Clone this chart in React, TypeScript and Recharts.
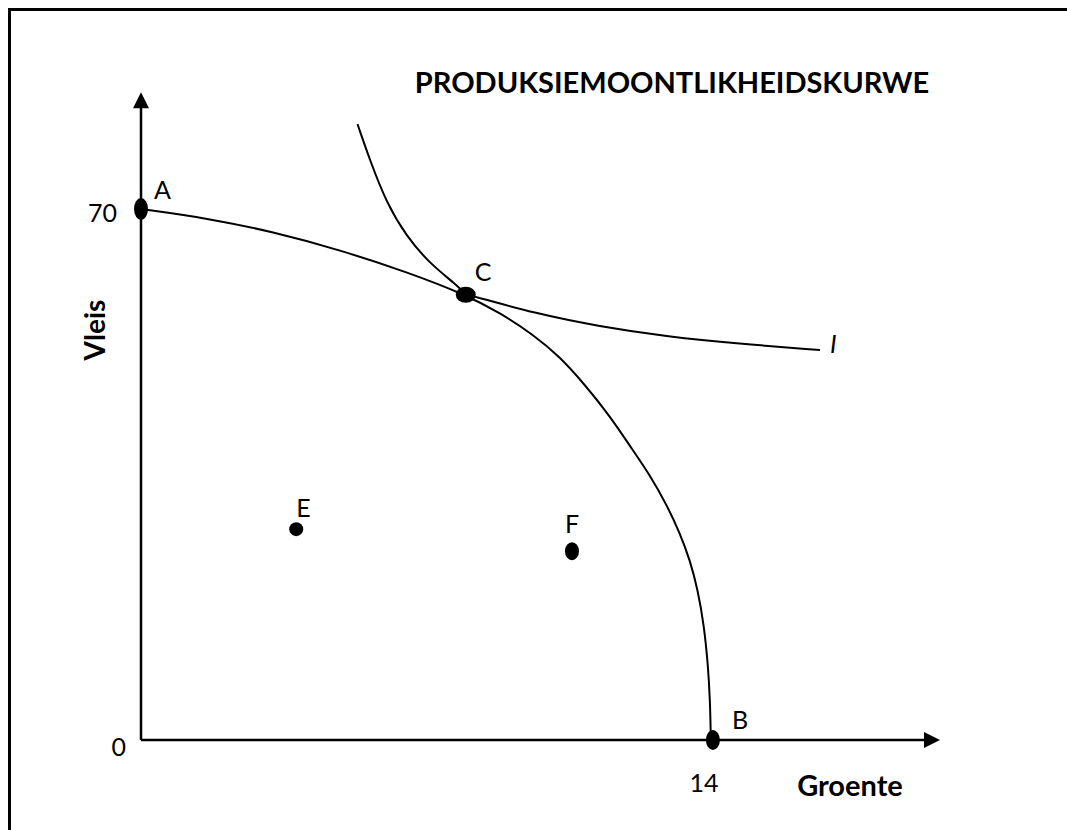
import { ComposedChart, Line, Scatter, XAxis, YAxis, ReferenceLine, ReferenceDot } from 'recharts';

// production possibility curve (Groente, Vleis)
const ppfX = [0, 1.62, 3.23, 4.87, 6.51, 7.95, 8.79, 9.59, 10.26, 10.87, 11.48, 12.04, 12.46, 12.87, 13.19, 13.44, 13.63, 13.78, 13.88, 13.93, 13.95];
const ppfY = [70, 68.8, 67.0, 64.6, 61.7, 58.7, 56.3, 53.5, 50.5, 46.8, 42.7, 38.2, 34.9, 31.0, 27.3, 23.7, 19.8, 15.2, 9.9, 5.3, 0];

// indifference curve I
const icX = [5.3, 5.6, 6.01, 6.5, 7.07, 7.73, 7.95, 8.22, 9.6, 11.23, 12.87, 14.5, 16.62];
const icY = [81.2, 76.5, 70.8, 66.4, 62.8, 60.0, 58.7, 58.4, 56.3, 54.5, 53.2, 52.3, 51.4];

const pointNames = ['A', 'B', 'C', 'E', 'F'];
const pointX = [0, 14, 7.95, 3.8, 10.55];
const pointY = [70, 0, 58.7, 27.8, 24.9];

const yTicks = [0, 70];
const xTicks = [14];

const title = 'PRODUKSIEMOONTLIKHEIDSKURWE';
const xTitle = 'Groente';
const yTitle = 'Vleis';
const curveName = 'I';

const FONT = 'Lato, "Open Sans", sans-serif';

const ppf = ppfX.map((x, i) => ({ x, y: ppfY[i] }));
const ic = icX.map((x, i) => ({ x, y: icY[i] }));
const points = pointNames.map((name, i) => ({ name, x: pointX[i], y: pointY[i] }));

// dot sizes and label nudges per point
const dotSize: Record<string, [number, number]> = {
  A: [7, 11], B: [7, 10], C: [10, 8], E: [7, 7], F: [7, 9],
};
const labelNudge: Record<string, [number, number]> = {
  A: [13, -10], B: [19, -11], C: [9, -14], E: [0, -12], F: [-7, -18],
};
const yTickNudge: Record<number, [number, number]> = { 0: [-15, 16], 70: [-24, 13] };

const PointShape = (props: any) => {
  const { cx, cy, payload } = props;
  const [rx, ry] = dotSize[payload.name];
  const [dx, dy] = labelNudge[payload.name];
  return (
    <g>
      <ellipse cx={cx} cy={cy} rx={rx} ry={ry} fill="#000" />
      <text x={cx + dx} y={cy + dy} fontFamily={FONT} fontSize={25} fill="#000">{payload.name}</text>
    </g>
  );
};

const YTick = (props: any) => {
  const { x, y, payload } = props;
  const [dx, dy] = yTickNudge[payload.value] || [-20, 12];
  return (
    <text x={x + dx} y={y + dy} textAnchor="end" fontFamily={FONT} fontSize={25} fill="#000">{payload.value}</text>
  );
};

const XTick = (props: any) => {
  const { x, y, payload } = props;
  return (
    <text x={x - 9} y={y + 52} textAnchor="middle" fontFamily={FONT} fontSize={25} fill="#000">{payload.value}</text>
  );
};

const UpArrow = (props: any) => {
  const { cx, cy } = props;
  return <path d={`M${cx},${cy} L${cx - 8},${cy + 16} L${cx + 8},${cy + 16} Z`} fill="#000" />;
};

const RightArrow = (props: any) => {
  const { cx, cy } = props;
  return <path d={`M${cx},${cy} L${cx - 16},${cy - 8} L${cx - 16},${cy + 8} Z`} fill="#000" />;
};

export default function App() {
  return (
    <div style={{ position: 'absolute', left: 0, top: 0, width: 1067, height: 830, background: '#fff', overflow: 'hidden' }}>
      {/* frame: only its left and top edges fall inside the picture */}
      <div style={{ position: 'absolute', left: 8, top: 8, width: 1200, height: 1000, borderLeft: '3px solid #000', borderTop: '3px solid #000' }} />
      <div style={{ position: 'absolute', left: 0, top: 0 }}>
        <ComposedChart width={1067} height={830} margin={{ top: 72.5, right: 109, bottom: 0, left: 81 }}>
          <XAxis type="number" dataKey="x" domain={[0, 20]} ticks={xTicks} height={90}
            axisLine={false} tickLine={false} tickSize={0} tickMargin={0} tick={<XTick />} />
          <YAxis type="number" dataKey="y" domain={[0, 88]} ticks={yTicks} width={60}
            axisLine={false} tickLine={false} tickSize={0} tickMargin={0} tick={<YTick />} />
          <ReferenceLine segment={[{ x: 0, y: 0 }, { x: 0, y: 83.4 }]} stroke="#000" strokeWidth={2.5} />
          <ReferenceLine segment={[{ x: 0, y: 0 }, { x: 19.2, y: 0 }]} stroke="#000" strokeWidth={2.5} />
          <ReferenceDot x={0} y={85.4} shape={<UpArrow />} />
          <ReferenceDot x={19.56} y={0} shape={<RightArrow />} />
          <Line data={ppf} dataKey="y" type="basis" stroke="#000" strokeWidth={2} dot={false} isAnimationActive={false} />
          <Line data={ic} dataKey="y" type="basis" stroke="#000" strokeWidth={2} dot={false} isAnimationActive={false} />
          <Scatter data={points} dataKey="y" shape={<PointShape />} isAnimationActive={false} />
          <text x={672} y={93} textAnchor="middle" fontFamily={FONT} fontWeight={700} fontSize={29} fill="#000">{title}</text>
          <text x={850} y={796} textAnchor="middle" fontFamily={FONT} fontWeight={700} fontSize={29} fill="#000">{xTitle}</text>
          <text x={105} y={330} textAnchor="middle" fontFamily={FONT} fontWeight={700} fontSize={28} fill="#000" transform="rotate(-90 105 330)">{yTitle}</text>
          <text x={830} y={353} fontFamily={FONT} fontStyle="italic" fontSize={25} fill="#000">{curveName}</text>
        </ComposedChart>
      </div>
    </div>
  );
}
